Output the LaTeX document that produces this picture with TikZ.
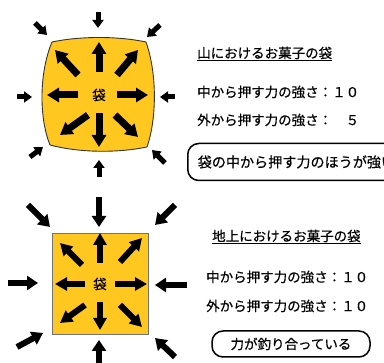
\documentclass[tikz,border=0pt]{standalone}
\usepackage{fontspec}
\setmainfont{Noto Sans CJK JP}[FakeBold=0.4]
\usetikzlibrary{arrows.meta}
\definecolor{bagfill}{RGB}{255,199,32}

\begin{document}
\begin{tikzpicture}[
  x=1pt, y=1pt,
  font=\fontsize{13.5}{16}\selectfont,
  bagline/.style={fill=bagfill, draw=black!80, line width=0.9pt},
  pushin/.style={-{Triangle[length=12pt, width=14pt]}, line width=7pt},
  pushout/.style={-{Triangle[length=8pt, width=11pt]}, line width=5pt},
  pushinB/.style={-{Triangle[length=12pt, width=13pt]}, line width=6pt},
  pushoutB/.style={-{Triangle[length=11pt, width=14pt]}, line width=6pt},
  head/.style={anchor=west, inner sep=0pt},
  line/.style={anchor=west, inner sep=0pt},
  verdict/.style={draw, line width=1.5pt, rounded corners=11pt, inner xsep=9pt},
]
  \useasboundingbox (0,0) rectangle (384,363);
  \clip (0,0) rectangle (384,363);

  % Bag on the mountain: swollen outline, strong push from inside
  \draw[bagline] (52,321) .. controls (80,327) and (118,327) .. (146,321)
    .. controls (157,290) and (157,245) .. (147,216)
    .. controls (118,210) and (80,210) .. (50,218)
    .. controls (39,245) and (39,290) .. cycle;
  \node (bagA) at (99,268) {袋};
  \foreach \x/\y/\u/\v in {0/23/0/53, 0/-18/0/-52, -21/0/-52/0, 18/0/49/0,
      18/20/39/45, -21/20/-44/45, -11/-20/-39/-40, 16/-20/39/-42}
    \draw[pushin] ([shift={(\x,\y)}]bagA.center) -- ([shift={(\u,\v)}]bagA.center);
  \foreach \x/\y/\u/\v in {-1/83/-1/67, -82/-2/-67/-2, 76/-2/61/-2, 0/-82/0/-65,
      -64/72/-52/60, 61/70/48/58, -69/-62/-56/-52, 66/-68/53/-55}
    \draw[pushout] ([shift={(\x,\y)}]bagA.center) -- ([shift={(\u,\v)}]bagA.center);

  \node[head] (titleA) at (197,309) {\underline{山におけるお菓子の袋}};
  \node[line] (inA) at (197,271) {中から押す力の強さ：１０};
  \node[line] (outA) at (197,243) {外から押す力の強さ：　５};
  \node[verdict, anchor=west, minimum height=37pt, minimum width=240pt,
        text width=220pt, font=\fontsize{14.1}{17}\selectfont]
    (resA) at (187,201) {袋の中から押す力のほうが強い};

  % Bag on the ground: square outline, forces in balance
  \node[bagline, draw=black!55, minimum width=96pt, minimum height=101pt]
    (bagB) at (100,79) {袋};
  \foreach \x/\y/\u/\v in {0/21/0/51, 0/-18/0/-46, -15/0/-45/0, 15/0/47/0,
      20/22/42/46, -18/19/-40/41, -15/-21/-40/-39, 20/-21/42/-43}
    \draw[pushinB] ([shift={(\x,\y)}]bagB.center) -- ([shift={(\u,\v)}]bagB.center);
  \foreach \x/\y/\u/\v in {-1/87/-1/57, -92/1/-62/1, 87/-1/55/-1, -1/-95/-1/-56,
      -72/79/-50/57, 75/79/55/59, -83/-63/-57/-49, 75/-73/55/-54}
    \draw[pushoutB] ([shift={(\x,\y)}]bagB.center) -- ([shift={(\u,\v)}]bagB.center);

  \node[head] (titleB) at (212,126) {\underline{地上におけるお菓子の袋}};
  \node[line] (inB) at (206,86) {中から押す力の強さ：１０};
  \node[line] (outB) at (206,57) {外から押す力の強さ：１０};
  \node[verdict, minimum height=26pt, minimum width=158pt] (resB) at (291,19)
    {力が釣り合っている};
\end{tikzpicture}
\end{document}
